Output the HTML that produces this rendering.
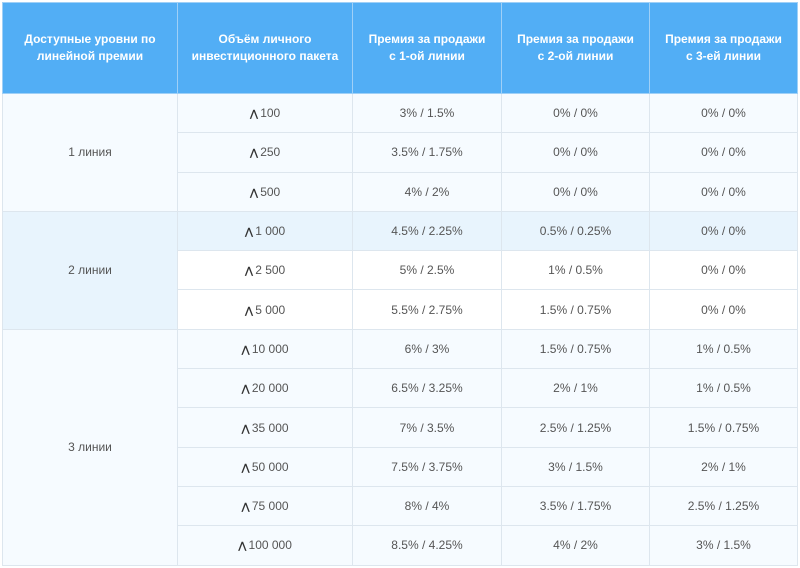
<!DOCTYPE html>
<html><head><meta charset="utf-8"><style>
html,body{margin:0;padding:0;background:#fff;width:800px;height:568px;overflow:hidden}
table{position:absolute;left:2px;top:2px;border-collapse:collapse;table-layout:fixed;font-family:"Liberation Sans","DejaVu Sans",sans-serif;font-size:12px;color:#555}
td,th{border:1px solid #dde6ee;text-align:center;padding:0;height:38.3px}
th{background:#52aef5;color:#fff;font-weight:bold;height:90px;line-height:17px;border-color:#9fd0f7}
tr.l td{background:#f6fbff}
tr.w td{background:#fff}
tr.h td{background:#e8f4fd}
td.b{background:#e8f4fd!important}
td.s{background:#f6fbff!important}
.r{font-weight:bold;font-size:10px;margin-right:2px;color:#333}
</style></head><body>
<table>
<colgroup><col style="width:175px"><col style="width:175px"><col style="width:149px"><col style="width:148px"><col style="width:148px"></colgroup>
<tr><th>Доступные уровни по<br>линейной премии</th><th>Объём личного<br>инвестиционного пакета</th><th>Премия за продажи<br>с 1-ой линии</th><th>Премия за продажи<br>с 2-ой линии</th><th>Премия за продажи<br>с 3-ей линии</th></tr>
<tr class="l"><td rowspan="3" class="s">1 линия</td><td><span class="r">⋀</span>100</td><td>3% / 1.5%</td><td>0% / 0%</td><td>0% / 0%</td></tr>
<tr class="l"><td><span class="r">⋀</span>250</td><td>3.5% / 1.75%</td><td>0% / 0%</td><td>0% / 0%</td></tr>
<tr class="l"><td><span class="r">⋀</span>500</td><td>4% / 2%</td><td>0% / 0%</td><td>0% / 0%</td></tr>
<tr class="h"><td rowspan="3" class="b">2 линии</td><td><span class="r">⋀</span>1 000</td><td>4.5% / 2.25%</td><td>0.5% / 0.25%</td><td>0% / 0%</td></tr>
<tr class="w"><td><span class="r">⋀</span>2 500</td><td>5% / 2.5%</td><td>1% / 0.5%</td><td>0% / 0%</td></tr>
<tr class="w"><td><span class="r">⋀</span>5 000</td><td>5.5% / 2.75%</td><td>1.5% / 0.75%</td><td>0% / 0%</td></tr>
<tr class="l"><td rowspan="6" class="s">3 линии</td><td><span class="r">⋀</span>10 000</td><td>6% / 3%</td><td>1.5% / 0.75%</td><td>1% / 0.5%</td></tr>
<tr class="l"><td><span class="r">⋀</span>20 000</td><td>6.5% / 3.25%</td><td>2% / 1%</td><td>1% / 0.5%</td></tr>
<tr class="l"><td><span class="r">⋀</span>35 000</td><td>7% / 3.5%</td><td>2.5% / 1.25%</td><td>1.5% / 0.75%</td></tr>
<tr class="l"><td><span class="r">⋀</span>50 000</td><td>7.5% / 3.75%</td><td>3% / 1.5%</td><td>2% / 1%</td></tr>
<tr class="l"><td><span class="r">⋀</span>75 000</td><td>8% / 4%</td><td>3.5% / 1.75%</td><td>2.5% / 1.25%</td></tr>
<tr class="l"><td><span class="r">⋀</span>100 000</td><td>8.5% / 4.25%</td><td>4% / 2%</td><td>3% / 1.5%</td></tr>
</table>
</body></html>
